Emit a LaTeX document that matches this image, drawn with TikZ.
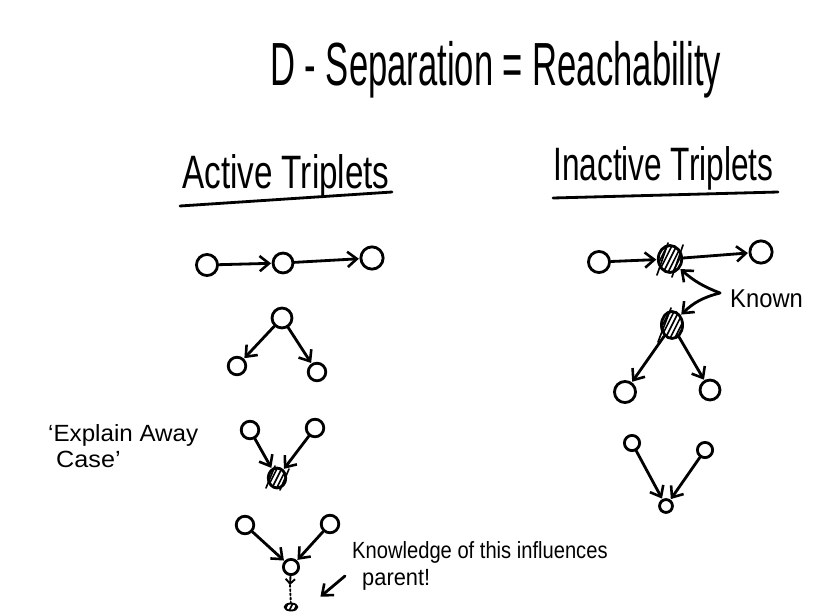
\documentclass[tikz,border=0pt]{standalone}
\usepackage{fontspec}
\setmainfont{Liberation Sans}
\usetikzlibrary{arrows.meta,calc,shapes.geometric}
\newcommand{\fitw}[2]{\resizebox{#1}{\height}{#2}}
\tikzset{
  ink/.style={line width=2.4pt, line cap=round, line join=round, draw=black},
  arr/.style={ink, -{Straight Barb[length=8pt,width=13pt,line width=2.2pt]}, shorten >=0.5pt},
  vtx/.style={circle, ink, minimum size=#1, inner sep=0pt, fill=white},
  vtx/.default=20pt,
  hatched/.style={ellipse, ink, minimum width=18pt, minimum height=22pt, inner sep=0pt, fill=white,
    path picture={
      \foreach \k in {-32,-28,...,32}
        \draw[line width=1.4pt] ($(path picture bounding box.center)+(\k pt,-16pt)$) -- ++(16pt,32pt);
    }},
  hand/.style={inner sep=0pt, anchor=base west, text=black},
}
\begin{document}
\begin{tikzpicture}[x=0.03cm, y=-0.03cm]
\useasboundingbox (0,0) rectangle (815,614);
\fill[white] (0,0) rectangle (815,614);

% title
\node[hand] (title) at (270,85) {\fitw{385pt}{\fontsize{52pt}{60pt}\selectfont D - Separation = Reachability}};

% headers
\node[hand] (hA) at (182,188) {\fitw{177pt}{\fontsize{40pt}{48pt}\selectfont Active Triplets}};
\coordinate (uA1) at (180,206); \coordinate (uA2) at (392,192);
\draw[ink] (uA1) -- (uA2);
\node[hand] (hI) at (553,180) {\fitw{188pt}{\fontsize{40pt}{48pt}\selectfont Inactive Triplets}};
\coordinate (uI1) at (553,198); \coordinate (uI2) at (778,192);
\draw[ink] (uI1) -- (uI2);

% ---------- Active: chain
\node[vtx=18pt] (a1) at (207,265) {};
\node[vtx=17pt] (a2) at (283,263) {};
\node[vtx=19pt] (a3) at (372,258) {};
\draw[arr] (a1) -- (a2);
\draw[arr] (a2) -- (a3);

% Active: common cause
\node[vtx=17pt] (b0) at (282,318) {};
\node[vtx=15pt] (b1) at (237,366) {};
\node[vtx=15pt] (b2) at (317,372) {};
\draw[arr] (b0) -- (b1);
\draw[arr] (b0) -- (b2);

% Active: explain away (v-structure observed)
\node[vtx=15pt] (c1) at (250,430) {};
\node[vtx=15pt] (c2) at (315,428) {};
\node[hatched, minimum width=15pt, minimum height=17pt] (c0) at (277,478) {};
\draw[arr] (c1) -- (c0);
\draw[arr] (c2) -- (c0);
\draw[ink, line width=1.4pt] (266,488) -- (275,466);
\draw[ink, line width=1.4pt] (280,490) -- (289,469);

\node[hand] (ea1) at (48,441) {\fitw{128pt}{\fontsize{20pt}{24pt}\selectfont `Explain Away}};
\node[hand] (ea2) at (56,467) {\fitw{55pt}{\fontsize{20pt}{24pt}\selectfont Case'}};

% Active: v-structure with observed descendant
\node[vtx=15pt] (d1) at (245,525) {};
\node[vtx=15pt] (d2) at (330,524) {};
\node[vtx=13pt] (d0) at (291,567) {};
\draw[arr] (d1) -- (d0);
\draw[arr] (d2) -- (d0);
\coordinate (dv) at (290,585);
\draw[ink, -{Straight Barb[length=4pt,width=8pt,line width=1.6pt]}, line width=1.6pt] (d0) -- (dv);
\node[hatched, minimum width=11pt, minimum height=6pt, line width=1.6pt] (dd) at (291,607) {};
\draw[ink, line width=1.6pt, dotted] (dv) -- (dd);

\node[hand] (kn1) at (352,558) {\fitw{218pt}{\fontsize{20pt}{24pt}\selectfont Knowledge of this influences}};
\node[hand] (kn2) at (362,585) {\fitw{58pt}{\fontsize{20pt}{24pt}\selectfont parent!}};
\coordinate (karr) at (345,576);
\coordinate (ktip) at (320,597);
\draw[arr] (karr) -- (ktip);

% ---------- Inactive: chain with observed middle
\node[vtx=18pt] (e1) at (599,262) {};
\node[hatched, minimum width=20pt, minimum height=23pt] (e2) at (670,259) {};
\node[vtx=19pt] (e3) at (761,252) {};
\draw[arr] (e1) -- (e2);
\draw[arr] (e2) -- (e3);
\draw[ink, line width=1.4pt] (657,275) -- (668,243);
\draw[ink, line width=1.4pt] (672,277) -- (683,245);

% Inactive: common cause observed
\node[hatched, minimum width=18pt, minimum height=23pt] (f0) at (672,325) {};
\node[vtx=18pt] (f1) at (625,392) {};
\node[vtx=17pt] (f2) at (710,390) {};
\draw[arr] (f0) -- (f1);
\draw[arr] (f0) -- (f2);
\draw[ink, line width=1.4pt] (658,342) -- (671,308);

% Known label
\node[hand] (known) at (730,307) {\fitw{62pt}{\fontsize{22pt}{26pt}\selectfont Known}};
\coordinate (ks) at (720,293);
\draw[arr] (ks) to[bend left=10] (e2);
\draw[arr] (ks) to[bend right=15] (f0);

% Inactive: v-structure unobserved
\node[vtx=13pt] (g1) at (632,443) {};
\node[vtx=13pt] (g2) at (705,450) {};
\node[vtx=11pt] (g0) at (666,506) {};
\draw[arr] (g1) -- (g0);
\draw[arr] (g2) -- (g0);
\end{tikzpicture}
\end{document}
